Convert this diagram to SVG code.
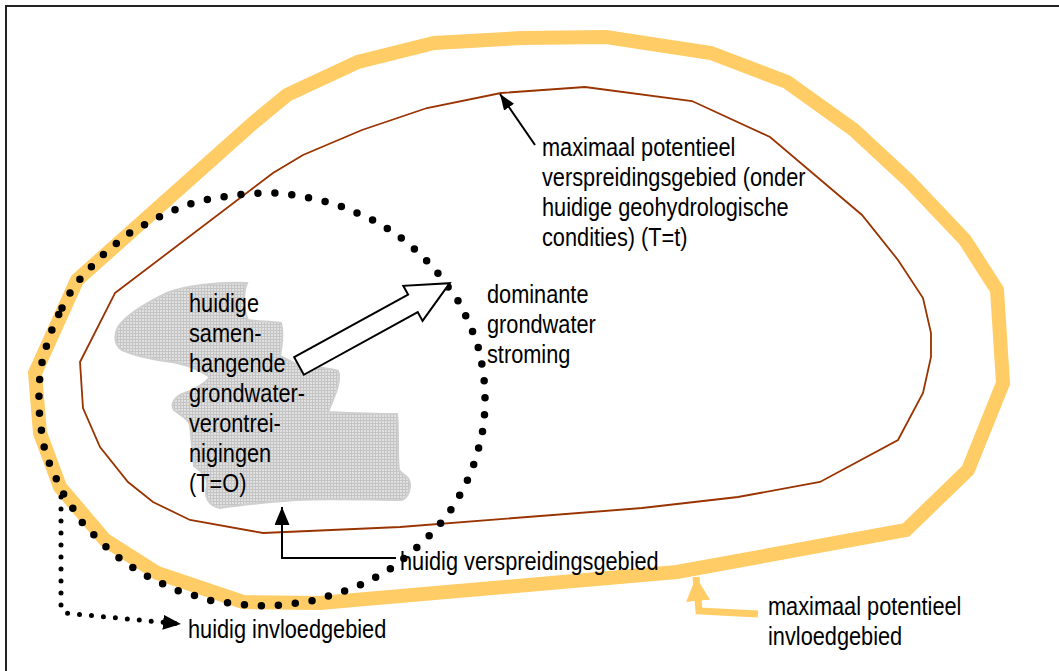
<svg xmlns="http://www.w3.org/2000/svg" width="1059" height="671" viewBox="0 0 1059 671">
  <style>
    .t { font-family: "Liberation Sans", Arial, sans-serif; font-size: 25px; fill: #000; }
    .zone-max { fill: none; stroke: #FFCC66; stroke-width: 14; stroke-linejoin: miter; }
    .zone-spread { fill: none; stroke: #993300; stroke-width: 1.8; stroke-linejoin: miter; }
    .dots { fill: none; stroke: #000; stroke-width: 7.5; stroke-linecap: round; stroke-dasharray: 0 17; }
    .dots-small { fill: none; stroke: #000; stroke-width: 5; stroke-linecap: round; stroke-dasharray: 0 12; }
    .lead { fill: none; stroke: #000; stroke-width: 2; }
    .lead-orange { fill: none; stroke: #FFCC66; stroke-width: 7; stroke-linejoin: miter; }
  </style>
  <defs>
    <pattern id="grain" width="3" height="3" patternUnits="userSpaceOnUse">
      <rect width="3" height="3" fill="#e0e0e0"/>
      <path d="M0,0.5H3M0.5,0V3" stroke="#c4c4c4" stroke-width="1"/>
    </pattern>
    <marker id="headBlack" viewBox="0 0 16 12" refX="16" refY="6" markerWidth="16" markerHeight="12" markerUnits="userSpaceOnUse" orient="auto">
      <path d="M0,0 L16,6 L0,12 Z" fill="#000"/>
    </marker>
    <marker id="headBlackLarge" viewBox="0 0 18 15" refX="18" refY="7.5" markerWidth="18" markerHeight="15" markerUnits="userSpaceOnUse" orient="auto">
      <path d="M0,0 L18,7.5 L0,15 Z" fill="#000"/>
    </marker>
    <marker id="headOrange" viewBox="0 0 24 24" refX="24" refY="12" markerWidth="24" markerHeight="24" markerUnits="userSpaceOnUse" orient="auto">
      <path d="M0,0 L24,12 L0,24 Z" fill="#FFCC66"/>
    </marker>
  </defs>

  <rect width="1059" height="671" fill="#fff"/>

  <!-- frame -->
  <path d="M6,671 V6 H1059" fill="none" stroke="#222" stroke-width="2"/>

  <!-- maximum potential influence zone -->
  <g id="zone-max-influence">
    <polygon class="zone-max" points="77,280 253,123 287,95 358,62 434,43 522,38 606,37 711,53 787,82 854,130 908,180 965,240 997,290 1003,383 968,470 906,530 677,572 320,603 243,602 157,573 105,540 60,487 40,433 35,373"/>
  </g>

  <!-- maximum potential spreading zone -->
  <g id="zone-max-spread">
    <polygon class="zone-spread" points="115,293 273,173 303,155 362,130 427,108 501,93 585,87 692,101 770,137 862,215 898,260 923,298 931,333 931,357 923,393 898,440 820,482 738,497 642,508 400,527 263,533 190,520 153,502 128,482 100,447 83,408 80,362"/>
  </g>

  <!-- contamination patch -->
  <g id="contamination">
    <path fill="url(#grain)" stroke="#cfcfcf" stroke-width="2" d="M167,293 C185,286 215,282 247,283 C243,292 243,310 248,320 C258,322 270,321 281,323 C284,333 282,345 280,356 L300,366 C315,367 330,368 338,371 C342,380 335,395 328,412 C350,413 375,414 397,414 C399,430 397,455 399,470 C403,476 410,476 410,485 C410,494 405,500 400,500 C370,500 330,498 295,500 C270,502 240,505 220,508 C208,506 204,496 207,487 C209,478 200,470 194,466 L190,425 C188,418 180,415 174,410 C170,404 175,396 185,393 C198,388 206,382 210,377 C200,370 190,366 177,363 C160,360 140,358 122,350 C114,345 114,335 118,327 C125,317 140,306 167,293 Z"/>
  </g>

  <!-- current spreading zone (dotted) -->
  <g id="zone-current">
    <path class="dots" d="M62,308 L70,293 L80,279 L92,266 L104,254 L117,243 L131,232 L146,224 L161,216 L177,209 L193,203 L210,199 L228,196 L245,194 L262,193 L276,193 L293,195 L310,198 L327,202 L343,207 L359,214 L375,221 L390,230 L404,240 L418,252 L430,264 L441,277 L451,291 L461,305 L468,321 L475,337 L480,353 L483,371 L485,388 L485,406 L484,423 L481,440 L476,457 L471,473 L463,489 L455,504 L445,518 L434,531 L421,544 L408,555 L395,566 L380,575 L365,583 L348,590 L332,595 L316,600 L298,603 L281,605 L264,606 L247,605 L229,603 L212,601 L196,596 L179,591 L163,584 L147,576 L132,567 L118,557 L105,546 L93,534 L81,521 L72,507 L63,493 L55,476 L48,460 L43,443 L41,427 L39,409 L39,391 L40,374 L43,357 L48,341 L54,324 Z"/>
  </g>

  <!-- dominant groundwater flow arrow -->
  <g id="flow-arrow">
    <polygon transform="translate(299,366) rotate(-28.8)" points="0,-10 130,-10 130,-20 172,0 130,20 130,10 0,10" fill="#fff" stroke="#000" stroke-width="2" stroke-linejoin="miter"/>
  </g>

  <!-- leader lines -->
  <g id="connectors">
    <line class="lead" x1="535" y1="145" x2="500" y2="94" marker-end="url(#headBlack)"/>
    <polyline class="lead" points="396,558 282,558 282,507" marker-end="url(#headBlackLarge)"/>
    <path class="dots-small" d="M61,497 L61,608 L65,613 L181,624" marker-end="url(#headBlackLarge)"/>
    <path class="lead-orange" d="M758,614 L699,611 L696,577" marker-end="url(#headOrange)"/>
  </g>

  <!-- labels -->
  <g id="label-contamination">
    <text class="t" x="189" y="312" textLength="70" lengthAdjust="spacingAndGlyphs">huidige</text>
    <text class="t" x="189" y="342" textLength="72.5" lengthAdjust="spacingAndGlyphs">samen-</text>
    <text class="t" x="189" y="372" textLength="96.7" lengthAdjust="spacingAndGlyphs">hangende</text>
    <text class="t" x="189" y="402" textLength="116" lengthAdjust="spacingAndGlyphs">grondwater-</text>
    <text class="t" x="189" y="432" textLength="91.8" lengthAdjust="spacingAndGlyphs">verontrei-</text>
    <text class="t" x="189" y="462" textLength="82.2" lengthAdjust="spacingAndGlyphs">nigingen</text>
    <text class="t" x="189" y="492" textLength="57.4" lengthAdjust="spacingAndGlyphs">(T=O)</text>
  </g>

  <g id="label-flow">
    <text class="t" x="487" y="303" textLength="101.5" lengthAdjust="spacingAndGlyphs">dominante</text>
    <text class="t" x="487" y="333" textLength="108.8" lengthAdjust="spacingAndGlyphs">grondwater</text>
    <text class="t" x="487" y="363" textLength="83.4" lengthAdjust="spacingAndGlyphs">stroming</text>
  </g>

  <g id="label-max-spread">
    <text class="t" x="542" y="156" textLength="193.4" lengthAdjust="spacingAndGlyphs">maximaal potentieel</text>
    <text class="t" x="542" y="186" textLength="263.5" lengthAdjust="spacingAndGlyphs">verspreidingsgebied (onder</text>
    <text class="t" x="542" y="216" textLength="246.6" lengthAdjust="spacingAndGlyphs">huidige geohydrologische</text>
    <text class="t" x="542" y="246" textLength="145.6" lengthAdjust="spacingAndGlyphs">condities) (T=t)</text>
  </g>

  <g id="label-current-spread">
    <text class="t" x="400" y="570" textLength="258.7" lengthAdjust="spacingAndGlyphs">huidig verspreidingsgebied</text>
  </g>

  <g id="label-current-influence">
    <text class="t" x="188" y="638" textLength="198.3" lengthAdjust="spacingAndGlyphs">huidig invloedgebied</text>
  </g>

  <g id="label-max-influence">
    <text class="t" x="768" y="615" textLength="193.4" lengthAdjust="spacingAndGlyphs">maximaal potentieel</text>
    <text class="t" x="768" y="645" textLength="134.2" lengthAdjust="spacingAndGlyphs">invloedgebied</text>
  </g>
</svg>
